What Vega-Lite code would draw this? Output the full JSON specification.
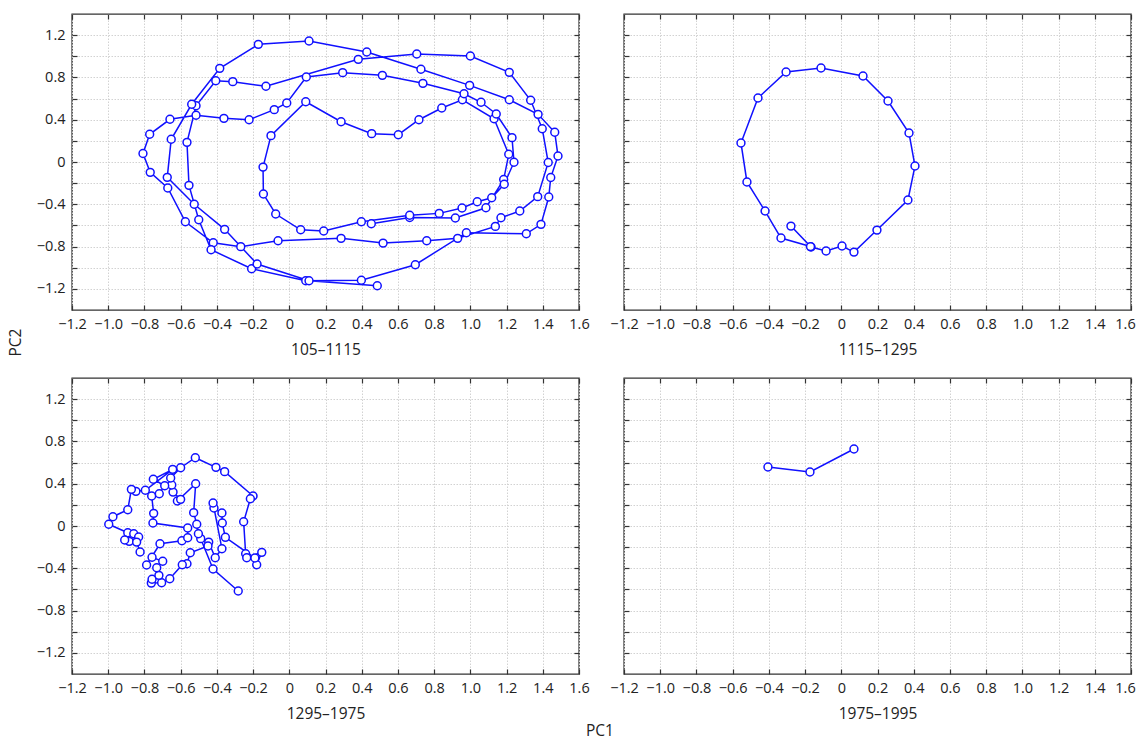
{
  "$schema": "https://vega.github.io/schema/vega-lite/v6.json",
  "background": "white",
  "padding": {"left": 7, "top": 12, "right": 5, "bottom": 0},
  "config": {
    "font": "Open Sans",
    "view": {"stroke": "#333333", "strokeWidth": 1.4},
    "axis": {
      "labelFontSize": 14.5, "labelColor": "#222222", "labelFont": "Open Sans",
      "titleFontSize": 15.5, "titleFontWeight": "normal", "titleColor": "#222222", "titleFont": "Open Sans",
      "tickColor": "#333333", "tickWidth": 1.2, "tickSize": -5,
      "domain": false, "gridColor": "#d2d2d2", "gridDash": [1.5, 1.5], "gridWidth": 1,
      "labelFlush": false, "labelOverlap": false, "labelBound": false
    }
  },
  "title": {"text": "PC1", "orient": "bottom", "anchor": "middle", "frame": "group", "dx": 528, "fontSize": 15.5, "fontWeight": "normal", "color": "#222222", "font": "Open Sans", "offset": 1},
  "datasets": {
    "p1": [
      {"i":1,"x":0.453,"y":-0.584},{"i":2,"x":0.665,"y":-0.525},{"i":3,"x":0.917,"y":-0.530},{"i":4,"x":1.086,"y":-0.433},
      {"i":5,"x":1.184,"y":-0.166},{"i":6,"x":1.212,"y":0.073},{"i":7,"x":1.131,"y":0.409},{"i":8,"x":0.956,"y":0.589},
      {"i":9,"x":0.842,"y":0.511},{"i":10,"x":0.716,"y":0.400},{"i":11,"x":0.602,"y":0.258},{"i":12,"x":0.455,"y":0.268},
      {"i":13,"x":0.286,"y":0.381},{"i":14,"x":0.091,"y":0.570},{"i":15,"x":-0.101,"y":0.249},{"i":16,"x":-0.145,"y":-0.048},
      {"i":17,"x":-0.143,"y":-0.303},{"i":18,"x":-0.075,"y":-0.492},{"i":19,"x":0.063,"y":-0.641},{"i":20,"x":0.190,"y":-0.653},
      {"i":21,"x":0.398,"y":-0.565},{"i":22,"x":0.665,"y":-0.504},{"i":23,"x":0.828,"y":-0.486},{"i":24,"x":0.954,"y":-0.435},
      {"i":25,"x":1.038,"y":-0.376},{"i":26,"x":1.118,"y":-0.338},{"i":27,"x":1.187,"y":-0.211},{"i":28,"x":1.241,"y":-0.002},
      {"i":29,"x":1.230,"y":0.230},{"i":30,"x":1.143,"y":0.454},{"i":31,"x":1.059,"y":0.565},{"i":32,"x":0.965,"y":0.646},
      {"i":33,"x":0.738,"y":0.744},{"i":34,"x":0.514,"y":0.820},{"i":35,"x":0.295,"y":0.845},{"i":36,"x":0.094,"y":0.804},
      {"i":37,"x":-0.014,"y":0.558},{"i":38,"x":-0.083,"y":0.495},{"i":39,"x":-0.222,"y":0.400},{"i":40,"x":-0.361,"y":0.413},
      {"i":41,"x":-0.515,"y":0.442},{"i":42,"x":-0.659,"y":0.404},{"i":43,"x":-0.771,"y":0.262},{"i":44,"x":-0.808,"y":0.080},
      {"i":45,"x":-0.768,"y":-0.098},{"i":46,"x":-0.671,"y":-0.246},{"i":47,"x":-0.574,"y":-0.565},{"i":48,"x":-0.420,"y":-0.764},
      {"i":49,"x":-0.268,"y":-0.801},{"i":50,"x":-0.062,"y":-0.745},{"i":51,"x":0.286,"y":-0.722},{"i":52,"x":0.518,"y":-0.767},
      {"i":53,"x":0.759,"y":-0.745},{"i":54,"x":0.930,"y":-0.722},{"i":55,"x":1.138,"y":-0.609},{"i":56,"x":1.169,"y":-0.527},
      {"i":57,"x":1.273,"y":-0.464},{"i":58,"x":1.372,"y":-0.328},{"i":59,"x":1.430,"y":-0.005},{"i":60,"x":1.397,"y":0.315},
      {"i":61,"x":1.333,"y":0.584},{"i":62,"x":1.215,"y":0.848},{"i":63,"x":1.000,"y":1.003},{"i":64,"x":0.704,"y":1.022},
      {"i":65,"x":0.381,"y":0.971},{"i":66,"x":-0.129,"y":0.716},{"i":67,"x":-0.312,"y":0.760},{"i":68,"x":-0.406,"y":0.769},
      {"i":69,"x":-0.515,"y":0.532},{"i":70,"x":-0.565,"y":0.186},{"i":71,"x":-0.554,"y":-0.221},{"i":72,"x":-0.500,"y":-0.546},
      {"i":73,"x":-0.432,"y":-0.830},{"i":74,"x":-0.208,"y":-1.010},{"i":75,"x":0.091,"y":-1.123},{"i":76,"x":0.398,"y":-1.119},
      {"i":77,"x":0.696,"y":-0.972},{"i":78,"x":0.978,"y":-0.669},{"i":79,"x":1.309,"y":-0.679},{"i":80,"x":1.390,"y":-0.590},
      {"i":81,"x":1.433,"y":-0.331},{"i":82,"x":1.444,"y":-0.147},{"i":83,"x":1.484,"y":0.057},{"i":84,"x":1.466,"y":0.281},
      {"i":85,"x":1.374,"y":0.451},{"i":86,"x":1.215,"y":0.589},{"i":87,"x":0.996,"y":0.725},{"i":88,"x":0.727,"y":0.877},
      {"i":89,"x":0.428,"y":1.040},{"i":90,"x":0.109,"y":1.145},{"i":91,"x":-0.171,"y":1.113},{"i":92,"x":-0.384,"y":0.886},
      {"i":93,"x":-0.539,"y":0.546},{"i":94,"x":-0.652,"y":0.215},{"i":95,"x":-0.674,"y":-0.145},{"i":96,"x":-0.525,"y":-0.400},
      {"i":97,"x":-0.357,"y":-0.637},{"i":98,"x":-0.178,"y":-0.965},{"i":99,"x":0.109,"y":-1.123},{"i":100,"x":0.486,"y":-1.171}
    ],
    "p2": [
      {"i":1,"x":-0.278,"y":-0.606},{"i":2,"x":-0.167,"y":-0.804},{"i":3,"x":-0.084,"y":-0.842},{"i":4,"x":0.004,"y":-0.795},
      {"i":5,"x":0.070,"y":-0.852},{"i":6,"x":0.197,"y":-0.644},{"i":7,"x":0.368,"y":-0.360},{"i":8,"x":0.407,"y":-0.038},
      {"i":9,"x":0.374,"y":0.274},{"i":10,"x":0.258,"y":0.577},{"i":11,"x":0.120,"y":0.813},{"i":12,"x":-0.112,"y":0.889},
      {"i":13,"x":-0.305,"y":0.851},{"i":14,"x":-0.460,"y":0.605},{"i":15,"x":-0.554,"y":0.180},{"i":16,"x":-0.521,"y":-0.189},
      {"i":17,"x":-0.421,"y":-0.464},{"i":18,"x":-0.333,"y":-0.719},{"i":19,"x":-0.170,"y":-0.800}
    ],
    "p3": [
      {"i":1,"x":-0.282,"y":-0.615},{"i":2,"x":-0.421,"y":-0.407},{"i":3,"x":-0.489,"y":-0.120},{"i":4,"x":-0.502,"y":-0.073},
      {"i":5,"x":-0.511,"y":0.016},{"i":6,"x":-0.528,"y":0.126},{"i":7,"x":-0.517,"y":0.400},{"i":8,"x":-0.618,"y":0.236},
      {"i":9,"x":-0.600,"y":0.252},{"i":10,"x":-0.642,"y":0.321},{"i":11,"x":-0.649,"y":0.388},{"i":12,"x":-0.655,"y":0.454},
      {"i":13,"x":-0.600,"y":0.551},{"i":14,"x":-0.519,"y":0.646},{"i":15,"x":-0.405,"y":0.555},{"i":16,"x":-0.357,"y":0.514},
      {"i":17,"x":-0.200,"y":0.284},{"i":18,"x":-0.215,"y":0.258},{"i":19,"x":-0.252,"y":0.040},{"i":20,"x":-0.241,"y":-0.262},
      {"i":21,"x":-0.235,"y":-0.300},{"i":22,"x":-0.152,"y":-0.249},{"i":23,"x":-0.180,"y":-0.366},{"i":24,"x":-0.190,"y":-0.303},
      {"i":25,"x":-0.353,"y":-0.107},{"i":26,"x":-0.370,"y":0.028},{"i":27,"x":-0.372,"y":0.123},{"i":28,"x":-0.416,"y":0.170},
      {"i":29,"x":-0.421,"y":0.217},{"i":30,"x":-0.372,"y":-0.215},{"i":31,"x":-0.409,"y":-0.300},{"i":32,"x":-0.445,"y":-0.152},
      {"i":33,"x":-0.449,"y":-0.189},{"i":34,"x":-0.547,"y":-0.253},{"i":35,"x":-0.565,"y":-0.357},{"i":36,"x":-0.591,"y":-0.366},
      {"i":37,"x":-0.660,"y":-0.499},{"i":38,"x":-0.705,"y":-0.537},{"i":39,"x":-0.762,"y":-0.540},{"i":40,"x":-0.758,"y":-0.504},
      {"i":41,"x":-0.720,"y":-0.467},{"i":42,"x":-0.732,"y":-0.395},{"i":43,"x":-0.699,"y":-0.334},{"i":44,"x":-0.758,"y":-0.296},
      {"i":45,"x":-0.788,"y":-0.369},{"i":46,"x":-0.714,"y":-0.168},{"i":47,"x":-0.593,"y":-0.139},{"i":48,"x":-0.561,"y":-0.111},
      {"i":49,"x":-0.561,"y":-0.019},{"i":50,"x":-0.753,"y":0.028},{"i":51,"x":-0.749,"y":0.120},{"i":52,"x":-0.760,"y":0.284},
      {"i":53,"x":-0.718,"y":0.305},{"i":54,"x":-0.688,"y":0.381},{"i":55,"x":-0.751,"y":0.442},{"i":56,"x":-0.644,"y":0.536},
      {"i":57,"x":-0.795,"y":0.338},{"i":58,"x":-0.847,"y":0.328},{"i":59,"x":-0.872,"y":0.347},{"i":60,"x":-0.892,"y":0.154},
      {"i":61,"x":-0.974,"y":0.088},{"i":62,"x":-0.997,"y":0.016},{"i":63,"x":-0.892,"y":-0.064},{"i":64,"x":-0.859,"y":-0.073},
      {"i":65,"x":-0.832,"y":-0.104},{"i":66,"x":-0.884,"y":-0.145},{"i":67,"x":-0.909,"y":-0.133},{"i":68,"x":-0.843,"y":-0.152},
      {"i":69,"x":-0.824,"y":-0.246}
    ],
    "p4": [
      {"i":1,"x":-0.405,"y":0.558},{"i":2,"x":-0.173,"y":0.511},{"i":3,"x":0.070,"y":0.728}
    ]
  },
  "columns": 2,
  "spacing": {"row": 68, "column": 45},
  "bounds": "flush",
  "concat": [
    {
      "width": 507, "height": 296,
      "data": {"name": "p1"},
      "layer": [
        {"mark": {"type": "line", "color": "#1010ff", "strokeWidth": 1.5},
         "encoding": {
           "x": {"field": "x", "type": "quantitative", "scale": {"domain": [-1.2, 1.6], "nice": false, "zero": false},
                 "axis": {"orient": "bottom", "title": "105–1115", "values": [-1.2,-1.0,-0.8,-0.6,-0.4,-0.2,0,0.2,0.4,0.6,0.8,1.0,1.2,1.4,1.6], "labelExpr": "datum.value == 0 ? '0' : format(datum.value, '.1f')", "labelPadding": 12, "titlePadding": 12, "grid": true}},
           "y": {"field": "y", "type": "quantitative", "scale": {"domain": [-1.4, 1.4], "nice": false, "zero": false},
                 "axis": {"orient": "left", "title": "PC2", "titleX": -57, "titleY": 328, "titleBaseline": "middle", "titleAngle": -90, "values": [-1.2,-1.0,-0.8,-0.6,-0.4,-0.2,0,0.2,0.4,0.6,0.8,1.0,1.2], "labelExpr": "abs(round(datum.value*10)) % 4 == 0 ? (datum.value == 0 ? '0' : format(datum.value, '.1f')) : ''", "labelPadding": 12, "grid": true}},
           "order": {"field": "i", "type": "quantitative"}
         }},
        {"mark": {"type": "point", "filled": true, "fill": "white", "stroke": "#1010ff", "strokeWidth": 1.5, "size": 62, "opacity": 1},
         "encoding": {
           "x": {"field": "x", "type": "quantitative", "axis": null},
           "y": {"field": "y", "type": "quantitative", "axis": null}
         }},
        {"mark": {"type": "point", "opacity": 0},
         "encoding": {
           "x": {"field": "x", "type": "quantitative", "axis": {"orient": "top", "title": null, "labels": false, "grid": false, "values": [-1.2,-1.0,-0.8,-0.6,-0.4,-0.2,0,0.2,0.4,0.6,0.8,1.0,1.2,1.4,1.6]}},
           "y": {"field": "y", "type": "quantitative", "axis": {"orient": "right", "title": null, "labels": false, "grid": false, "values": [-1.2,-1.0,-0.8,-0.6,-0.4,-0.2,0,0.2,0.4,0.6,0.8,1.0,1.2]}}
         }}
      ],
      "resolve": {"axis": {"x": "independent", "y": "independent"}}
    },
    {
      "width": 507, "height": 296,
      "data": {"name": "p2"},
      "layer": [
        {"mark": {"type": "line", "color": "#1010ff", "strokeWidth": 1.5},
         "encoding": {
           "x": {"field": "x", "type": "quantitative", "scale": {"domain": [-1.2, 1.6], "nice": false, "zero": false},
                 "axis": {"orient": "bottom", "title": "1115–1295", "values": [-1.2,-1.0,-0.8,-0.6,-0.4,-0.2,0,0.2,0.4,0.6,0.8,1.0,1.2,1.4,1.6], "labelExpr": "datum.value == 0 ? '0' : format(datum.value, '.1f')", "labelOffset": {"condition": {"test": "datum.value > 1.55", "value": -6}, "value": 0}, "labelPadding": 12, "titlePadding": 12, "grid": true}},
           "y": {"field": "y", "type": "quantitative", "scale": {"domain": [-1.4, 1.4], "nice": false, "zero": false},
                 "axis": {"orient": "left", "title": null, "labels": false, "values": [-1.2,-1.0,-0.8,-0.6,-0.4,-0.2,0,0.2,0.4,0.6,0.8,1.0,1.2], "grid": true}},
           "order": {"field": "i", "type": "quantitative"}
         }},
        {"mark": {"type": "point", "filled": true, "fill": "white", "stroke": "#1010ff", "strokeWidth": 1.5, "size": 62, "opacity": 1},
         "encoding": {
           "x": {"field": "x", "type": "quantitative", "axis": null},
           "y": {"field": "y", "type": "quantitative", "axis": null}
         }},
        {"mark": {"type": "point", "opacity": 0},
         "encoding": {
           "x": {"field": "x", "type": "quantitative", "axis": {"orient": "top", "title": null, "labels": false, "grid": false, "values": [-1.2,-1.0,-0.8,-0.6,-0.4,-0.2,0,0.2,0.4,0.6,0.8,1.0,1.2,1.4,1.6]}},
           "y": {"field": "y", "type": "quantitative", "axis": {"orient": "right", "title": null, "labels": false, "grid": false, "values": [-1.2,-1.0,-0.8,-0.6,-0.4,-0.2,0,0.2,0.4,0.6,0.8,1.0,1.2]}}
         }}
      ],
      "resolve": {"axis": {"x": "independent", "y": "independent"}}
    },
    {
      "width": 507, "height": 296,
      "data": {"name": "p3"},
      "layer": [
        {"mark": {"type": "line", "color": "#1010ff", "strokeWidth": 1.5},
         "encoding": {
           "x": {"field": "x", "type": "quantitative", "scale": {"domain": [-1.2, 1.6], "nice": false, "zero": false},
                 "axis": {"orient": "bottom", "title": "1295–1975", "values": [-1.2,-1.0,-0.8,-0.6,-0.4,-0.2,0,0.2,0.4,0.6,0.8,1.0,1.2,1.4,1.6], "labelExpr": "datum.value == 0 ? '0' : format(datum.value, '.1f')", "labelPadding": 12, "titlePadding": 12, "grid": true}},
           "y": {"field": "y", "type": "quantitative", "scale": {"domain": [-1.4, 1.4], "nice": false, "zero": false},
                 "axis": {"orient": "left", "title": null, "values": [-1.2,-1.0,-0.8,-0.6,-0.4,-0.2,0,0.2,0.4,0.6,0.8,1.0,1.2], "labelExpr": "abs(round(datum.value*10)) % 4 == 0 ? (datum.value == 0 ? '0' : format(datum.value, '.1f')) : ''", "labelPadding": 12, "grid": true}},
           "order": {"field": "i", "type": "quantitative"}
         }},
        {"mark": {"type": "point", "filled": true, "fill": "white", "stroke": "#1010ff", "strokeWidth": 1.5, "size": 62, "opacity": 1},
         "encoding": {
           "x": {"field": "x", "type": "quantitative", "axis": null},
           "y": {"field": "y", "type": "quantitative", "axis": null}
         }},
        {"mark": {"type": "point", "opacity": 0},
         "encoding": {
           "x": {"field": "x", "type": "quantitative", "axis": {"orient": "top", "title": null, "labels": false, "grid": false, "values": [-1.2,-1.0,-0.8,-0.6,-0.4,-0.2,0,0.2,0.4,0.6,0.8,1.0,1.2,1.4,1.6]}},
           "y": {"field": "y", "type": "quantitative", "axis": {"orient": "right", "title": null, "labels": false, "grid": false, "values": [-1.2,-1.0,-0.8,-0.6,-0.4,-0.2,0,0.2,0.4,0.6,0.8,1.0,1.2]}}
         }}
      ],
      "resolve": {"axis": {"x": "independent", "y": "independent"}}
    },
    {
      "width": 507, "height": 296,
      "data": {"name": "p4"},
      "layer": [
        {"mark": {"type": "line", "color": "#1010ff", "strokeWidth": 1.5},
         "encoding": {
           "x": {"field": "x", "type": "quantitative", "scale": {"domain": [-1.2, 1.6], "nice": false, "zero": false},
                 "axis": {"orient": "bottom", "title": "1975–1995", "values": [-1.2,-1.0,-0.8,-0.6,-0.4,-0.2,0,0.2,0.4,0.6,0.8,1.0,1.2,1.4,1.6], "labelExpr": "datum.value == 0 ? '0' : format(datum.value, '.1f')", "labelOffset": {"condition": {"test": "datum.value > 1.55", "value": -6}, "value": 0}, "labelPadding": 12, "titlePadding": 12, "grid": true}},
           "y": {"field": "y", "type": "quantitative", "scale": {"domain": [-1.4, 1.4], "nice": false, "zero": false},
                 "axis": {"orient": "left", "title": null, "labels": false, "values": [-1.2,-1.0,-0.8,-0.6,-0.4,-0.2,0,0.2,0.4,0.6,0.8,1.0,1.2], "grid": true}},
           "order": {"field": "i", "type": "quantitative"}
         }},
        {"mark": {"type": "point", "filled": true, "fill": "white", "stroke": "#1010ff", "strokeWidth": 1.5, "size": 62, "opacity": 1},
         "encoding": {
           "x": {"field": "x", "type": "quantitative", "axis": null},
           "y": {"field": "y", "type": "quantitative", "axis": null}
         }},
        {"mark": {"type": "point", "opacity": 0},
         "encoding": {
           "x": {"field": "x", "type": "quantitative", "axis": {"orient": "top", "title": null, "labels": false, "grid": false, "values": [-1.2,-1.0,-0.8,-0.6,-0.4,-0.2,0,0.2,0.4,0.6,0.8,1.0,1.2,1.4,1.6]}},
           "y": {"field": "y", "type": "quantitative", "axis": {"orient": "right", "title": null, "labels": false, "grid": false, "values": [-1.2,-1.0,-0.8,-0.6,-0.4,-0.2,0,0.2,0.4,0.6,0.8,1.0,1.2]}}
         }}
      ],
      "resolve": {"axis": {"x": "independent", "y": "independent"}}
    }
  ]
}
